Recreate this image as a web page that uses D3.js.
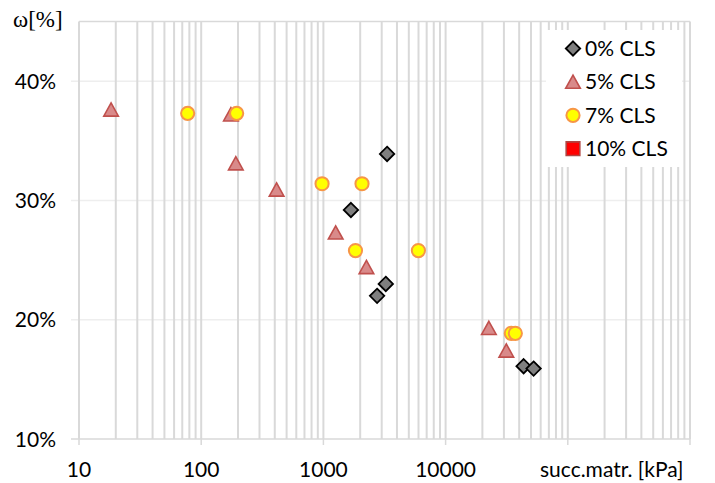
<!DOCTYPE html>
<html>
<head>
<meta charset="utf-8">
<script src="https://cdn.jsdelivr.net/npm/d3@7"></script>
<style>
  html, body { margin: 0; padding: 0; background: #fff; }
  svg { display: block; }
  text { font-family: Lato, "Liberation Sans", sans-serif; fill: #000; }
</style>
</head>
<body>
<svg id="chart" width="715" height="483"></svg>
<script>
// Matric suction [kPa] vs water content, per lime (CLS) content
const seriesNames = ["0% CLS", "5% CLS", "7% CLS", "10% CLS"];

const suction0 = [3320, 1680, 3240, 2750, 43500, 52500];
const water0   = [0.339, 0.292, 0.230, 0.220, 0.161, 0.159];

const suction5 = [18.3, 175, 192, 414, 1260, 2250, 22600, 31400];
const water5   = [0.376, 0.372, 0.331, 0.309, 0.273, 0.244, 0.193, 0.174];

const suction7 = [77.5, 195, 975, 2070, 1830, 5990, 34500, 37200];
const water7   = [0.373, 0.373, 0.314, 0.314, 0.258, 0.258, 0.1886, 0.1886];

const suction10 = [];
const water10   = [];

const xTickValues = [10, 100, 1000, 10000];
const xTickLabels = ["10", "100", "1000", "10000"];
const yTickValues = [0.10, 0.20, 0.30, 0.40];
const yTickLabels = ["10%", "20%", "30%", "40%"];

const svg = d3.select("#chart");
const plotLeft = 79, plotRight = 690, plotTop = 21.5, plotBottom = 439;

const x = d3.scaleLog().domain([10, 1e6]).range([plotLeft, plotRight]);
const y = d3.scaleLinear().domain([0.10, 0.45]).range([plotBottom, plotTop]);

// horizontal gridlines (very light)
const g = svg.append("g");
g.selectAll("line.hgrid").data(yTickValues.slice(1)).join("line")
  .attr("x1", plotLeft - 8).attr("x2", plotRight)
  .attr("y1", d => y(d)).attr("y2", d => y(d))
  .attr("stroke", "#eeeeee").attr("stroke-width", 1.5);

// vertical gridlines at every 1..9 x decade
const vLines = [];
for (let e = 1; e < 6; e++) for (let m = 1; m < 10; m++) vLines.push(m * Math.pow(10, e));
vLines.push(1e6);
g.selectAll("line.vgrid").data(vLines).join("line")
  .attr("x1", d => x(d)).attr("x2", d => x(d))
  .attr("y1", plotTop).attr("y2", plotBottom)
  .attr("stroke", "#d9d9d9").attr("stroke-width", 2);

// top border
g.append("line").attr("x1", plotLeft).attr("x2", plotRight).attr("y1", plotTop).attr("y2", plotTop)
  .attr("stroke", "#d9d9d9").attr("stroke-width", 1.5);

// bottom axis line, decade ticks
g.append("line").attr("x1", plotLeft - 8).attr("x2", plotRight).attr("y1", plotBottom).attr("y2", plotBottom)
  .attr("stroke", "#d9d9d9").attr("stroke-width", 1.5);
g.selectAll("line.xt").data([10, 100, 1000, 10000, 100000, 1e6]).join("line")
  .attr("x1", d => x(d)).attr("x2", d => x(d))
  .attr("y1", plotBottom).attr("y2", plotBottom + 6)
  .attr("stroke", "#d9d9d9").attr("stroke-width", 1.5);

// tick labels
svg.selectAll("text.xl").data(xTickValues).join("text")
  .attr("x", d => x(d)).attr("y", 477)
  .attr("text-anchor", "middle").attr("font-size", 21)
  .text((d, i) => xTickLabels[i]);
svg.selectAll("text.yl").data(yTickValues).join("text")
  .attr("x", 56).attr("y", d => y(d) + 7.5)
  .attr("text-anchor", "end").attr("font-size", 21)
  .text((d, i) => yTickLabels[i]);

// axis titles
svg.append("text").attr("x", 540).attr("y", 477).attr("font-size", 21)
  .text("succ.matr. [kPa]");
svg.append("text").attr("x", 13).attr("y", 27).attr("font-size", 23)
  .style("font-family", "'Liberation Serif', serif")
  .text("ω[%]");

// marker shapes
const shapes = {
  diamond: "M0,-7.2L7.2,0L0,7.2L-7.2,0Z",
  triangle: "M0,-6.8L7.3,6.4L-7.3,6.4Z",
  square: "M-6.8,-6.8H6.8V6.8H-6.8Z"
};
const styles = [
  { path: shapes.diamond, fill: "#7f7f7f", stroke: "#000000", sw: 1.8 },
  { path: shapes.triangle, fill: "#d98a8a", stroke: "#c0504d", sw: 1.6 },
  { circle: true, fill: "#ffff00", stroke: "#f79646", sw: 2 },
  { path: shapes.square, fill: "#ff0000", stroke: "#b04542", sw: 1.6 }
];

function drawMarker(sel, st) {
  if (st.circle) {
    sel.append("circle").attr("r", 6.6)
      .attr("fill", st.fill).attr("stroke", st.stroke).attr("stroke-width", st.sw);
  } else {
    sel.append("path").attr("d", st.path)
      .attr("fill", st.fill).attr("stroke", st.stroke).attr("stroke-width", st.sw)
      .attr("stroke-linejoin", "miter");
  }
}

const series = [
  { xs: suction0, ys: water0 },
  { xs: suction5, ys: water5 },
  { xs: suction7, ys: water7 },
  { xs: suction10, ys: water10 }
];

series.forEach((s, i) => {
  const pts = s.xs.map((v, k) => [v, s.ys[k]]);
  svg.append("g").selectAll("g").data(pts).join("g")
    .attr("transform", d => `translate(${x(d[0])},${y(d[1])})`)
    .each(function () { drawMarker(d3.select(this), styles[i]); });
});

// legend
const lg = svg.append("g");
lg.append("rect").attr("x", 546).attr("y", 30).attr("width", 136).attr("height", 137)
  .attr("fill", "#ffffff");
seriesNames.forEach((name, i) => {
  const cy = 48.5 + i * 33.4;
  const m = lg.append("g").attr("transform", `translate(573,${cy})`);
  drawMarker(m, styles[i]);
  lg.append("text").attr("x", 585).attr("y", cy + 7.5).attr("font-size", 21).text(name);
});
</script>
</body>
</html>
